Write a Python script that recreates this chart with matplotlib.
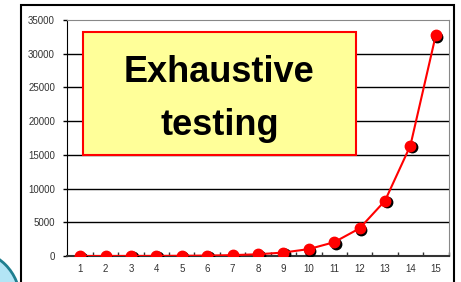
import matplotlib.pyplot as plt
import matplotlib.transforms as mtransforms
from matplotlib.patches import Rectangle, Circle

plt.rcParams['font.family'] = ['Liberation Sans', 'DejaVu Sans']

n_bits = [1, 2, 3, 4, 5, 6, 7, 8, 9, 10, 11, 12, 13, 14, 15]
tests = [2, 4, 8, 16, 32, 64, 128, 256, 512, 1024, 2048, 4096, 8192, 16384, 32768]
y_ticks = [0, 5000, 10000, 15000, 20000, 25000, 30000, 35000]

fig = plt.figure(figsize=(4.61, 2.82), dpi=100)
ax = fig.add_axes([0.1464, 0.0922, 0.8265, 0.8369])

x = list(range(len(n_bits)))
# shadow for markers
shadow = mtransforms.offset_copy(ax.transData, fig=fig, x=1.1, y=-1.1, units='points')
ax.plot(x, tests, 'o', color='black', markersize=7.5, transform=shadow, zorder=3)
ax.plot(x, tests, '-', color='red', lw=1.5, zorder=4)
ax.plot(x, tests, 'o', color='red', markersize=7.5, zorder=5)

ax.set_xlim(-0.5, len(n_bits) - 0.5)
ax.set_ylim(0, 35000)
ax.set_yticks(y_ticks)
ax.set_yticklabels([str(v) for v in y_ticks], fontsize=7, color='#333333')
ax.set_xticks(x)
ax.set_xticklabels([str(v) for v in n_bits], fontsize=7, color='#333333')
ax.tick_params(axis='x', length=0, pad=6)
ax.tick_params(axis='y', length=3, width=1, pad=6, color='black')
ax.set_xticks([i - 0.5 for i in range(1, len(n_bits) + 1)], minor=True)
ax.tick_params(axis='x', which='minor', direction='in', length=3, width=1, color='#333333')

for v in y_ticks[1:-1]:
    ax.axhline(v, color='black', lw=1, zorder=1)

ax.spines['left'].set_color('black')
ax.spines['bottom'].set_color('#333333')
ax.spines['bottom'].set_linewidth(1.5)
ax.spines['top'].set_color('#888888')
ax.spines['right'].set_color('#888888')

# outer frame
fig.add_artist(Rectangle((21 / 461, -0.1), 433 / 461, 1.1 - 5 / 282, transform=fig.transFigure,
                         fill=False, edgecolor='black', lw=1.5))

# callout box
fig.add_artist(Rectangle((0.1807, 0.4504), 0.5915, 0.4372, transform=fig.transFigure,
                         facecolor='#ffff99', edgecolor='red', lw=1.5, zorder=2))
fig.text(0.4761, 0.7103, 'Exhaustive', fontsize=26, fontweight='bold', ha='center', va='baseline', zorder=3)
fig.text(0.4761, 0.5213, 'testing', fontsize=26, fontweight='bold', ha='center', va='baseline', zorder=3)

# decorative circle at bottom left
fig.add_artist(Circle((-30, -18), 50, transform=mtransforms.IdentityTransform(),
                      facecolor='#b3e5f5', edgecolor='#1f7f8f', lw=2))

fig.savefig('out.png', dpi=100)
